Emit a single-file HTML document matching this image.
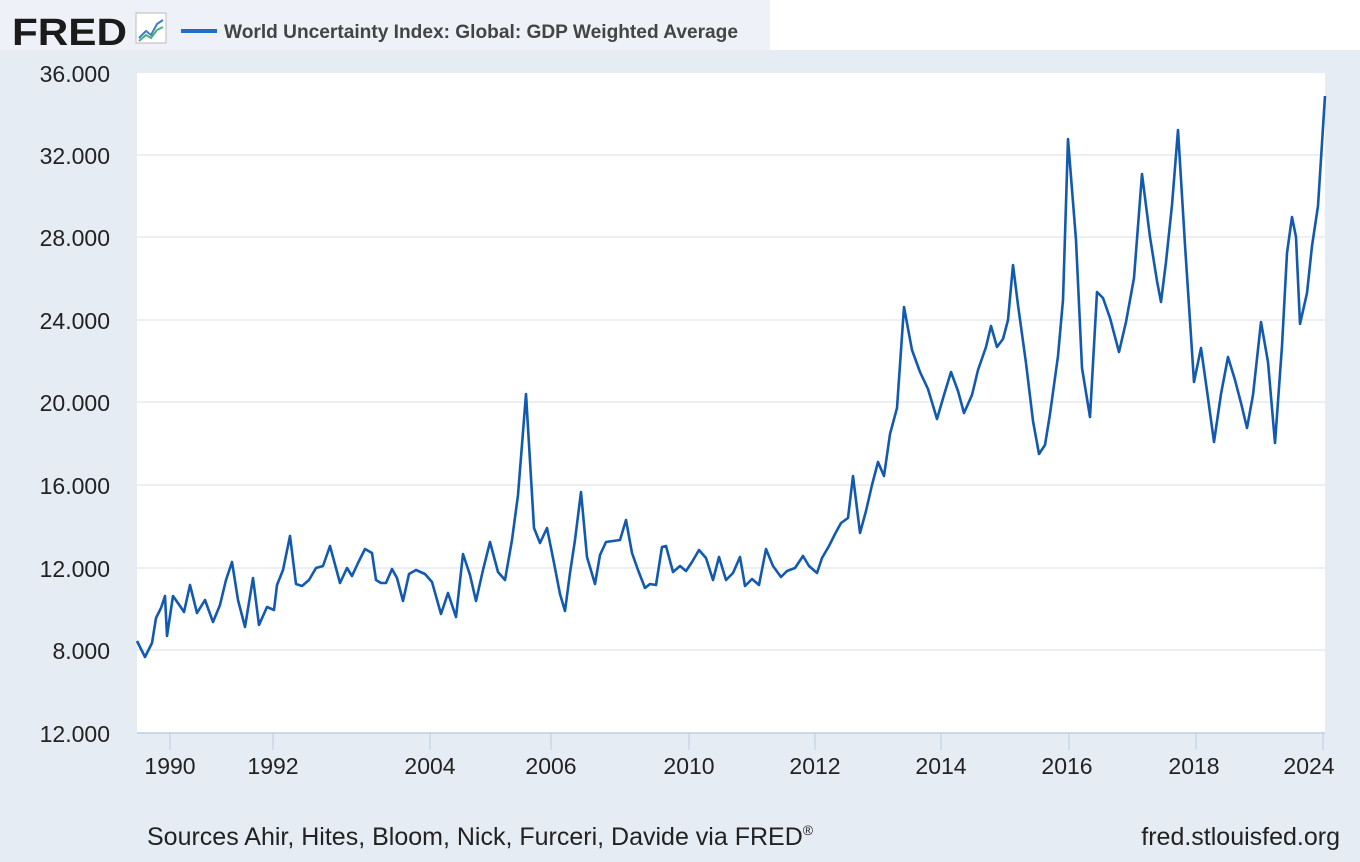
<!DOCTYPE html>
<html><head><meta charset="utf-8"><style>
html,body{margin:0;padding:0;}
body{width:1360px;height:862px;background:#e6ecf3;position:relative;overflow:hidden;font-family:"Liberation Sans",sans-serif;}
</style></head><body>
<svg width="1360" height="862" style="position:absolute;left:0;top:0" font-family="Liberation Sans, sans-serif">
<rect x="0" y="0" width="1360" height="862" fill="#e6ecf3"/>
<rect x="770" y="0" width="590" height="50" fill="#ffffff"/>
<rect x="0" y="0" width="770" height="50" fill="#eef2f8"/>
<text x="12" y="45" font-size="38" font-weight="bold" fill="#1b1b1b" textLength="115" lengthAdjust="spacingAndGlyphs">FRED</text>
<rect x="136" y="13" width="30" height="30" fill="#fff" stroke="#bbb"/>
<polyline points="139,38 146,31 151,35 157,24 163,20" fill="none" stroke="#3b82c4" stroke-width="2"/>
<polyline points="139,41 146,35 151,38 157,30 163,27" fill="none" stroke="#4caf7a" stroke-width="2"/>
<line x1="181" y1="31" x2="217" y2="31" stroke="#1f6fc5" stroke-width="4"/>
<text x="224" y="38" font-size="19" font-weight="bold" fill="#444" textLength="514" lengthAdjust="spacingAndGlyphs">World Uncertainty Index: Global: GDP Weighted Average</text>
<rect x="137" y="73" width="1188" height="660" fill="#ffffff"/>
<g stroke="#dcdfe4" stroke-width="1">
<line x1="137" y1="155" x2="1325" y2="155"/><line x1="137" y1="237" x2="1325" y2="237"/>
<line x1="137" y1="320" x2="1325" y2="320"/><line x1="137" y1="402" x2="1325" y2="402"/>
<line x1="137" y1="485" x2="1325" y2="485"/><line x1="137" y1="568" x2="1325" y2="568"/>
<line x1="137" y1="650" x2="1325" y2="650"/>
</g>
<line x1="137" y1="733" x2="1325" y2="733" stroke="#b9cde3" stroke-width="1.5"/>
<g stroke="#b9cde3" stroke-width="1">
<line x1="170" y1="733" x2="170" y2="750"/><line x1="273" y1="733" x2="273" y2="750"/>
<line x1="430" y1="733" x2="430" y2="750"/><line x1="551" y1="733" x2="551" y2="750"/>
<line x1="689" y1="733" x2="689" y2="750"/><line x1="815" y1="733" x2="815" y2="750"/>
<line x1="941" y1="733" x2="941" y2="750"/><line x1="1069" y1="733" x2="1069" y2="750"/>
<line x1="1196" y1="733" x2="1196" y2="750"/><line x1="1323" y1="733" x2="1323" y2="750"/>
</g>
<g font-size="23" fill="#222" text-anchor="end">
<text x="110" y="82">36.000</text><text x="110" y="164">32.000</text>
<text x="110" y="246">28.000</text><text x="110" y="329">24.000</text>
<text x="110" y="411">20.000</text><text x="110" y="494">16.000</text>
<text x="110" y="577">12.000</text><text x="110" y="659">8.000</text>
<text x="110" y="742">12.000</text>
</g>
<g font-size="23" fill="#222" text-anchor="middle">
<text x="170" y="774">1990</text><text x="273" y="774">1992</text>
<text x="430" y="774">2004</text><text x="551" y="774">2006</text>
<text x="689" y="774">2010</text><text x="815" y="774">2012</text>
<text x="941" y="774">2014</text><text x="1067" y="774">2016</text>
<text x="1194" y="774">2018</text><text x="1309" y="774">2024</text>
</g>
<polyline fill="none" stroke="#1259b0" stroke-width="2.6" stroke-linejoin="round" points="137,641 145,657 152,643 156,618 161,608 165,596 167,636 173,596 180,606 184,612 190,585 197,613 205,600 213,622 220,605 226,580 232,562 238,600 245,627 253,578 259,625 267,607 274,610 277,585 283,570 290,536 296,584 302,586 309,580 316,568 323,566 330,546 340,583 347,568 352,576 358,563 365,549 372,553 376,580 381,583 386,583 392,569 397,578 403,601 409,574 416,570 425,574 432,582 441,614 448,593 456,617 463,554 470,575 476,601 483,570 490,542 498,572 505,580 512,540 518,495 526,394 534,528 540,543 547,528 554,563 560,594 565,611 570,573 575,540 581,492 587,557 595,584 600,555 606,542 613,541 620,540 626,520 632,553 638,570 645,588 650,584 656,585 662,547 666,546 673,572 680,566 686,571 692,562 699,550 706,558 713,580 719,557 726,580 733,573 740,557 745,586 752,579 759,585 766,549 773,566 781,577 787,571 795,568 803,556 809,566 817,573 822,558 829,546 835,534 841,523 848,518 853,476 860,533 866,511 872,485 878,462 884,476 890,434 897,408 904,307 912,350 920,372 928,389 937,419 944,395 951,372 958,391 964,413 972,395 978,370 986,347 991,326 997,347 1003,339 1008,320 1013,265 1018,305 1026,363 1033,421 1039,454 1045,445 1050,414 1058,356 1063,300 1068,139 1076,240 1082,368 1090,417 1097,292 1103,298 1110,318 1119,352 1126,322 1134,278 1142,174 1150,237 1157,281 1161,302 1166,262 1172,205 1178,130 1185,245 1194,382 1201,348 1208,398 1214,442 1221,394 1228,357 1235,380 1241,403 1247,428 1253,395 1261,322 1268,362 1275,443 1282,346 1287,253 1292,217 1296,237 1300,324 1307,293 1312,246 1318,206 1325,96"/>
<text x="147" y="845" font-size="25" fill="#222">Sources Ahir, Hites, Bloom, Nick, Furceri, Davide via FRED<tspan font-size="14" dy="-10">®</tspan></text>
<text x="1340" y="845" font-size="25" fill="#222" text-anchor="end">fred.stlouisfed.org</text>
</svg>
</body></html>
